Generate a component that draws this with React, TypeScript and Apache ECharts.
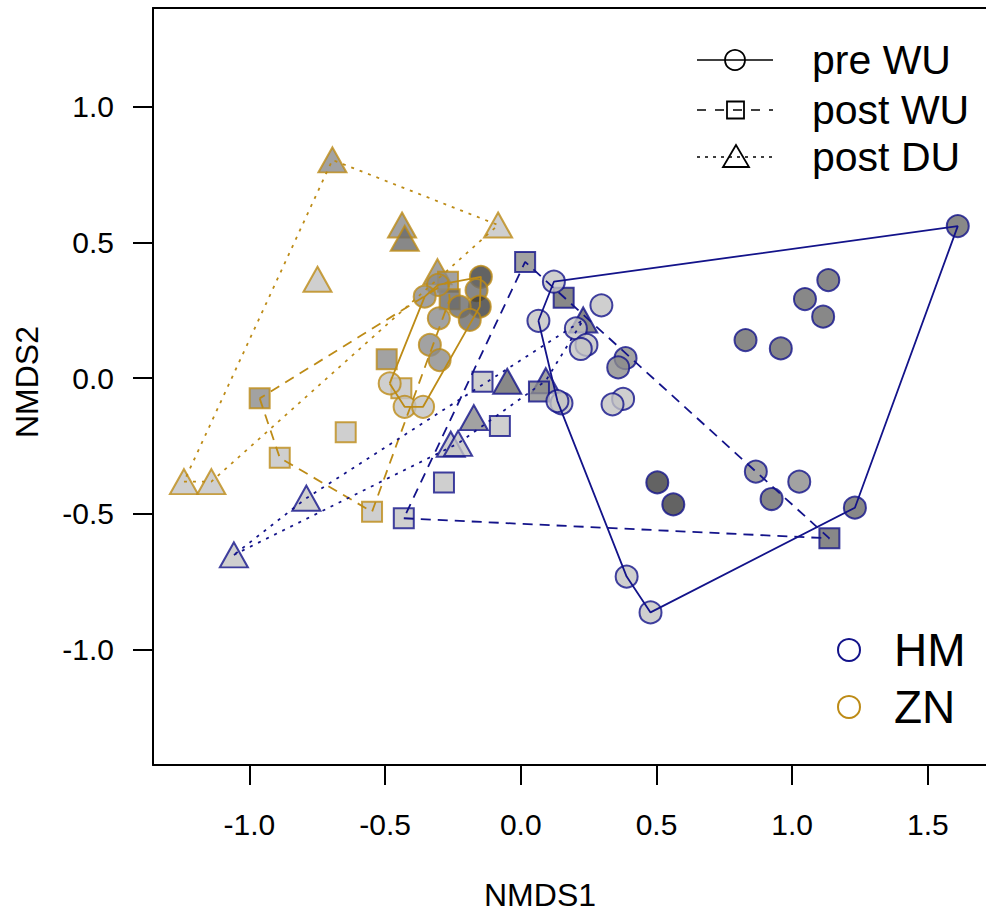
import React, { useEffect, useRef } from "react";
import * as echarts from "echarts";

// ---------- data ----------
const xTicks = [-1.0, -0.5, 0.0, 0.5, 1.0, 1.5];
const yTicks = [-1.0, -0.5, 0.0, 0.5, 1.0];
const xTitle = "NMDS1";
const yTitle = "NMDS2";
const groupNames = ["HM", "ZN"];
const phaseNames = ["pre WU", "post WU", "post DU"];

// [NMDS1, NMDS2, shade level]
const hmPreWU: [number, number, string][] = [
  [0.122, 0.355, "L"], [0.297, 0.268, "L"], [0.065, 0.211, "L"], [0.203, 0.183, "L"],
  [0.242, 0.122, "L"], [0.221, 0.107, "L"], [0.386, 0.073, "M"], [0.359, 0.039, "M"],
  [0.377, -0.077, "L"], [0.338, -0.097, "L"], [0.15, -0.093, "L"], [0.135, -0.085, "L"],
  [1.61, 0.56, "D"], [1.133, 0.361, "D"], [1.047, 0.291, "D"], [1.114, 0.226, "D"],
  [0.828, 0.14, "D"], [0.958, 0.109, "D"], [0.866, -0.345, "M"], [1.026, -0.382, "M"],
  [0.924, -0.446, "D"], [0.503, -0.385, "K"], [0.562, -0.466, "K"], [1.231, -0.478, "D"],
  [0.39, -0.732, "L"], [0.478, -0.864, "L"],
];
const hmPostWU: [number, number, string][] = [
  [0.016, 0.428, "M"], [0.158, 0.296, "D"], [0.067, -0.05, "M"], [-0.141, -0.014, "L"],
  [-0.077, -0.177, "L"], [-0.283, -0.385, "L"], [-0.431, -0.517, "L"], [1.137, -0.591, "D"],
];
const hmPostDU: [number, number, string][] = [
  [0.23, 0.214, "D"], [0.092, -0.01, "M"], [-0.05, -0.012, "D"], [-0.173, -0.146, "M"],
  [-0.258, -0.244, "L"], [-0.231, -0.241, "L"], [-0.79, -0.443, "L"], [-1.057, -0.652, "L"],
];
const znPreWU: [number, number, string][] = [
  [-0.147, 0.373, "K"], [-0.163, 0.324, "D"], [-0.151, 0.263, "K"], [-0.225, 0.263, "D"],
  [-0.188, 0.214, "D"], [-0.305, 0.343, "M"], [-0.354, 0.30, "M"], [-0.302, 0.22, "M"],
  [-0.335, 0.122, "M"], [-0.299, 0.066, "M"], [-0.483, -0.02, "L"], [-0.428, -0.106, "L"],
  [-0.36, -0.106, "L"],
];
const znPostWU: [number, number, string][] = [
  [-0.268, 0.355, "M"], [-0.262, 0.29, "D"], [-0.494, 0.069, "M"], [-0.44, -0.038, "L"],
  [-0.962, -0.075, "M"], [-0.888, -0.294, "L"], [-0.645, -0.2, "L"], [-0.548, -0.493, "L"],
];
const znPostDU: [number, number, string][] = [
  [-0.694, 0.804, "M"], [-0.4375, 0.564, "M"], [-0.4275, 0.515, "D"], [-0.0836, 0.564, "L"],
  [-0.749, 0.364, "L"], [-1.241, -0.382, "L"], [-1.14, -0.382, "L"], [-0.307, 0.392, "M"],
];

// ---------- styles ----------
const FILL: Record<string, string> = { L: "#c3c3c3", M: "#8b8b8b", D: "#6a6a6a", K: "#3c3c3c" };
const NAVY = "#13138a";
const GOLD = "#bd8b16";
const FONT = "'Liberation Sans', Arial, Helvetica, sans-serif";

function convexHull(pts: [number, number, string][]): number[][] {
  const p = pts.map((d) => [d[0], d[1]]).sort((a, b) => a[0] - b[0] || a[1] - b[1]);
  const cross = (o: number[], a: number[], b: number[]) =>
    (a[0] - o[0]) * (b[1] - o[1]) - (a[1] - o[1]) * (b[0] - o[0]);
  const lower: number[][] = [];
  for (const q of p) {
    while (lower.length >= 2 && cross(lower[lower.length - 2], lower[lower.length - 1], q) <= 0) lower.pop();
    lower.push(q);
  }
  const upper: number[][] = [];
  for (const q of [...p].reverse()) {
    while (upper.length >= 2 && cross(upper[upper.length - 2], upper[upper.length - 1], q) <= 0) upper.pop();
    upper.push(q);
  }
  upper.pop();
  lower.pop();
  const h = lower.concat(upper);
  h.push(h[0]);
  return h;
}

const PHASE_STYLE = [
  { symbol: "circle", size: 22, dash: "solid" as any },
  { symbol: "rect", size: 20, dash: [10, 7] as any },
  { symbol: "triangle", size: [28, 25] as any, dash: [3, 6] as any },
];

export default function App() {
  const ref = useRef<HTMLDivElement>(null);
  useEffect(() => {
    if (!ref.current) return;
    const chart = echarts.init(ref.current, undefined, { renderer: "svg" });

    const sets = [
      { data: znPostDU, color: GOLD, phase: 2 },
      { data: znPostWU, color: GOLD, phase: 1 },
      { data: znPreWU, color: GOLD, phase: 0 },
      { data: hmPostDU, color: NAVY, phase: 2 },
      { data: hmPostWU, color: NAVY, phase: 1 },
      { data: hmPreWU, color: NAVY, phase: 0 },
    ];

    const series: any[] = [];
    sets.forEach((s) => {
      const st = PHASE_STYLE[s.phase];
      series.push({
        type: "scatter",
        z: 2,
        symbol: st.symbol,
        symbolSize: st.size,
        data: s.data.map((d) => ({
          value: [d[0], d[1]],
          itemStyle: { color: FILL[d[2]], borderColor: s.color, borderWidth: 2 },
        })),
        silent: true,
      });
    });
    sets.forEach((s) => {
      const st = PHASE_STYLE[s.phase];
      series.push({
        type: "line",
        z: 5,
        data: convexHull(s.data),
        symbol: "none",
        silent: true,
        lineStyle: { color: s.color, width: 1.8, type: st.dash },
      });
    });

    const legendRows = [60, 110, 157];
    const graphic: any[] = [];
    legendRows.forEach((cy, i) => {
      const dash = i === 0 ? null : i === 1 ? [9, 9] : [3, 5];
      graphic.push({
        type: "line",
        shape: { x1: 697, y1: cy, x2: 773, y2: cy },
        style: { stroke: "#000", lineWidth: 1.6, lineDash: dash },
      });
      if (i === 0) {
        graphic.push({ type: "circle", shape: { cx: 735, cy, r: 10 }, style: { fill: "none", stroke: "#000", lineWidth: 1.8 } });
      } else if (i === 1) {
        graphic.push({ type: "rect", shape: { x: 727, y: cy - 8.5, width: 17, height: 17 }, style: { fill: "none", stroke: "#000", lineWidth: 1.8 } });
      } else {
        graphic.push({ type: "polygon", shape: { points: [[736, cy - 12], [723, cy + 10], [749, cy + 10]] }, style: { fill: "none", stroke: "#000", lineWidth: 1.8 } });
      }
      graphic.push({
        type: "text", x: 812, y: cy,
        style: { text: phaseNames[i], fontSize: 41, fontFamily: FONT, fill: "#000", align: "left", verticalAlign: "middle" },
      });
    });
    [NAVY, GOLD].forEach((c, i) => {
      const cy = i === 0 ? 650 : 707;
      graphic.push({ type: "circle", shape: { cx: 849, cy, r: 11 }, style: { fill: "none", stroke: c, lineWidth: 2 } });
      graphic.push({
        type: "text", x: 894, y: cy,
        style: { text: groupNames[i], fontSize: 46, fontFamily: FONT, fill: "#000", align: "left", verticalAlign: "middle" },
      });
    });
    graphic.push({
      type: "text", x: 540, y: 895,
      style: { text: xTitle, fontSize: 32, fontFamily: FONT, fill: "#000", align: "center", verticalAlign: "middle" },
    });
    graphic.push({
      type: "text", x: 27, y: 382, rotation: Math.PI / 2,
      style: { text: yTitle, fontSize: 32, fontFamily: FONT, fill: "#000", align: "center", verticalAlign: "middle" },
    });

    const axisCommon = {
      type: "value",
      splitLine: { show: false },
      axisLine: { show: true, onZero: false, lineStyle: { color: "#000", width: 2 } },
    };

    chart.setOption({
      animation: false,
      backgroundColor: "#fff",
      grid: { left: 153, top: 8, right: 0, bottom: 154, containLabel: false },
      xAxis: [
        {
          ...axisCommon,
          position: "bottom",
          min: -1.355,
          max: 1.714,
          axisTick: { show: true, inside: false, length: 20, lineStyle: { color: "#000", width: 2 }, customValues: xTicks },
          axisLabel: {
            show: true, customValues: xTicks, margin: 44, fontSize: 30, fontFamily: FONT, color: "#000",
            formatter: (v: number) => v.toFixed(1),
          },
        },
        {
          ...axisCommon,
          position: "top",
          min: -1.355,
          max: 1.714,
          axisTick: { show: false },
          axisLabel: { show: false },
        },
      ],
      yAxis: {
        ...axisCommon,
        min: -1.4265,
        max: 1.364,
        axisTick: { show: true, inside: false, length: 20, lineStyle: { color: "#000", width: 2 }, customValues: yTicks },
        axisLabel: {
          show: true, customValues: yTicks, margin: 39, fontSize: 30, fontFamily: FONT, color: "#000",
          formatter: (v: number) => v.toFixed(1),
        },
      },
      series,
      graphic,
    });
    return () => chart.dispose();
  }, []);

  return <div ref={ref} style={{ position: "fixed", left: 0, top: 0, width: 986, height: 919 }} />;
}
